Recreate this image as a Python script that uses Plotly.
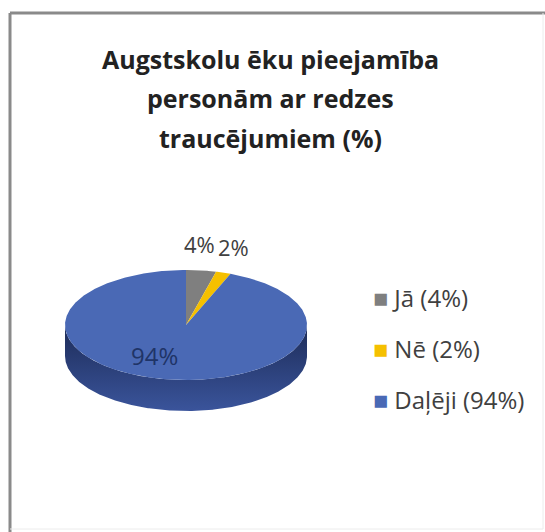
import numpy as np
import plotly.graph_objects as go

# Survey answers
categories = ["Jā", "Nē", "Daļēji"]
values = [4, 2, 94]
colors = ["#7F7F7F", "#F5C000", "#4A69B5"]
side_colors = [("#5f5f5f", "#3a3a3a"), ("#c99a00", "#8a6a00"), ("#3A549B", "#1D2C58")]

title_lines = ["Augstskolu ēku pieejamība", "personām ar redzes", "traucējumiem (%)"]

# Geometry of the tilted pie (pixel-like axis units)
CX, CY = 186, 325
RX, RY = 121, 55
DEPTH = 31

FONT = "'Open Sans', Lato, sans-serif"

fig = go.Figure()


def ellipse_pts(a0, a1, n):
    t = np.radians(np.linspace(a0, a1, n))
    return CX + RX * np.sin(t), CY - RY * np.cos(t)


total = float(sum(values))
starts = np.concatenate([[0.0], np.cumsum(values)[:-1]]) / total * 360.0
ends = np.cumsum(values) / total * 360.0

# Side walls (front half only, 90..270 degrees clockwise from top)
for s, e, (c_top, c_bot) in zip(starts, ends, side_colors):
    lo, hi = max(s, 90.0), min(e, 270.0)
    if hi <= lo:
        continue
    n = max(int(hi - lo) * 2, 4)
    xs, ys = ellipse_pts(lo, hi, n)
    px = np.concatenate([xs, xs[::-1]])
    py = np.concatenate([ys, ys[::-1] + DEPTH])
    fig.add_trace(go.Scatter(
        x=px, y=py, mode="lines", fill="toself",
        line=dict(width=0, color=c_bot),
        fillgradient=dict(type="vertical",
                          colorscale=[[0, c_top], [1, c_bot]]),
        hoverinfo="skip", showlegend=False,
    ))

# Top faces
for cat, v, s, e, col in zip(categories, values, starts, ends, colors):
    n = max(int(e - s) * 2, 6)
    xs, ys = ellipse_pts(s, e, n)
    px = np.concatenate([[CX], xs, [CX]])
    py = np.concatenate([[CY], ys, [CY]])
    fig.add_trace(go.Scatter(
        x=px, y=py, mode="lines", fill="toself",
        fillcolor=col, line=dict(width=0, color=col),
        name=cat, hoverinfo="name", showlegend=False,
    ))

# Data labels: small slices outside the rim (nudged apart), big slice inside
mids = (starts + ends) / 2.0
outside_nudge = [-2, 10]
k = 0
for v, m in zip(values, mids):
    t = np.radians(m)
    if v < 10:
        lx = CX + RX * np.sin(t) + outside_nudge[k]
        ly = CY - RY * np.cos(t) - 26
        k += 1
        color, size = "#404040", 22
    else:
        lx = CX - 32
        ly = CY + 30
        color, size = "#1F3467", 24
    fig.add_annotation(x=lx, y=ly, text=f"{v}%", showarrow=False,
                       font=dict(family=FONT, size=size, color=color),
                       xanchor="center", yanchor="middle")

# Legend
legend_y = [297, 348, 399]
for cat, v, col, ly in zip(categories, values, colors, legend_y):
    fig.add_annotation(
        x=371, y=ly, xanchor="left", yanchor="middle", showarrow=False,
        text=f"<span style='font-size:25px;color:{col}'>■</span> {cat} ({v}%)",
        font=dict(family=FONT, size=24, color="#404040"),
    )

# Title
for line, ty in zip(title_lines, [59, 98, 138]):
    fig.add_annotation(x=270, y=ty, text=f"<b>{line}</b>", showarrow=False,
                       xanchor="center", yanchor="middle",
                       font=dict(family=FONT, size=25, color="#222222"))

# Chart frame
fig.add_shape(type="line", x0=10, y0=13, x1=10, y1=532,
              line=dict(color="#8a8a8a", width=3))
fig.add_shape(type="line", x0=10, y0=13, x1=545, y1=13,
              line=dict(color="#8a8a8a", width=3))
fig.add_shape(type="line", x0=543, y0=13, x1=543, y1=529,
              line=dict(color="#ececec", width=1))
fig.add_shape(type="line", x0=10, y0=529, x1=543, y1=529,
              line=dict(color="#ececec", width=1))

fig.update_layout(
    width=545, height=532,
    margin=dict(l=0, r=0, t=0, b=0),
    paper_bgcolor="white", plot_bgcolor="white",
    xaxis=dict(range=[0, 545], visible=False, fixedrange=True),
    yaxis=dict(range=[532, 0], visible=False, fixedrange=True),
    showlegend=False,
)

fig.write_html("out.html")
